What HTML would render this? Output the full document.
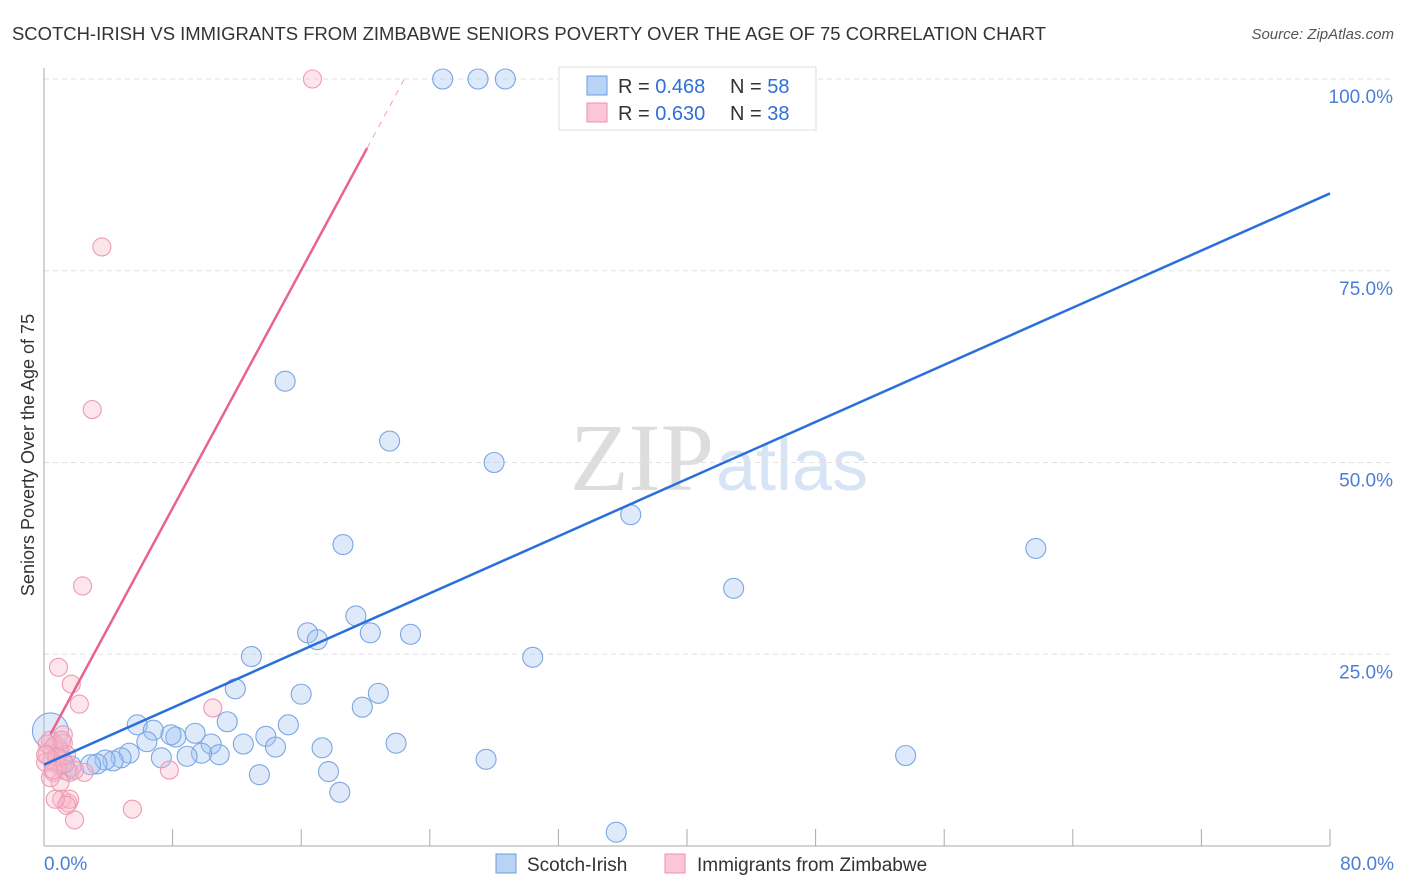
<!DOCTYPE html>
<html><head><meta charset="utf-8"><style>
body{margin:0;background:#fff;font-family:"Liberation Sans",sans-serif;}
#c{position:relative;width:1406px;height:892px;overflow:hidden;}
</style></head><body>
<div id="c">
<svg id="svg" width="1406" height="892" xmlns="http://www.w3.org/2000/svg">
<text x="12" y="40" font-size="18" fill="#333" textLength="1034" lengthAdjust="spacingAndGlyphs">SCOTCH-IRISH VS IMMIGRANTS FROM ZIMBABWE SENIORS POVERTY OVER THE AGE OF 75 CORRELATION CHART</text>
<text x="1394" y="39" font-size="15" fill="#555" font-style="italic" text-anchor="end">Source: ZipAtlas.com</text>
<text x="714" y="490" font-size="96" fill="#ddd" text-anchor="end" font-family="Liberation Serif,serif">ZIP</text>
<text x="716" y="490" font-size="72" fill="#d6e4f5">atlas</text>
<text transform="translate(34,455) rotate(-90)" font-size="18" fill="#333" text-anchor="middle">Seniors Poverty Over the Age of 75</text>
<g id="grid"></g><g id="pts"></g><g id="lines"></g>
<g>
<rect x="559" y="67" width="257" height="63" fill="#fff" stroke="#ddd"/>
<rect x="587" y="76" width="20" height="19" fill="#b9d3f5" stroke="#6a9be0"/>
<rect x="587" y="103" width="20" height="19" fill="#fbc6d6" stroke="#ec8fab"/>
<text x="618" y="93" font-size="20" fill="#333">R = <tspan fill="#2f6fd6">0.468</tspan></text>
<text x="730" y="93" font-size="20" fill="#333">N = <tspan fill="#2f6fd6">58</tspan></text>
<text x="618" y="120" font-size="20" fill="#333">R = <tspan fill="#2f6fd6">0.630</tspan></text>
<text x="730" y="120" font-size="20" fill="#333">N = <tspan fill="#2f6fd6">38</tspan></text>
</g>
<g>
<rect x="496" y="854" width="20" height="19" fill="#b9d3f5" stroke="#6a9be0"/>
<text x="527" y="871" font-size="19" fill="#333">Scotch-Irish</text>
<rect x="665" y="854" width="20" height="19" fill="#fbc6d6" stroke="#ec8fab"/>
<text x="697" y="871" font-size="19" fill="#333">Immigrants from Zimbabwe</text>
</g>
</svg>
</div>
<script>
const yTicks=[25,50,75,100];
const yTickLabels=["25.0%","50.0%","75.0%","100.0%"];
const xTickLabels=["0.0%","80.0%"];
const blueX=[24.8,27,28.7,33.1,37.6,15,21.5,28,36.5,18.6,61.7,42.9,19.4,16.4,20.3,17,22.8,12.9,30.4,11.9,16,20.8,19.8,5.8,6.8,11.4,15.2,8.2,9.4,6.4,13.8,10.4,12.4,7.9,17.3,14.4,21.9,5.3,10.9,9.8,7.3,8.9,4.8,4.3,3.8,3.3,2.9,1.7,1.4,27.5,53.6,17.7,13.4,18.4,35.6,0.4,0.7,1];
const blueY=[100,100,100,100,100,60.6,52.8,50,43.2,39.3,38.8,33.6,30,27.8,27.8,26.9,27.6,24.7,24.6,20.5,19.8,19.9,18.1,15.8,15.1,16.2,15.8,14.2,14.7,13.6,14.3,13.3,13.3,14.5,12.8,12.9,13.4,12.1,11.9,12.1,11.5,11.7,11.5,11.1,11.2,10.7,10.6,10.4,9.9,11.3,11.8,9.7,9.3,7,1.8,15,12.5,11];
const blueR=[10,10,10,10,10,10,10,10,10,10,10,10,10,10,10,10,10,10,10,10,10,10,10,10,10,10,10,10,10,10,10,10,10,10,10,10,10,10,10,10,10,10,10,10,10,10,10,10,10,10,10,10,10,10,10,18,12,12];
const pinkX=[16.7,3.6,3,2.4,0.9,1.7,2.2,10.5,7.8,5.5,1.9,1.5,1.1,1.6,0.4,0.7,1,1.2,0.2,0.5,0.9,1.2,1.4,0.6,0.1,1.6,2.5,1,0.4,0.8,1.1,0.2,0.6,1.4,0.1,1.9,0.7,1.3];
const pinkY=[100,78.1,56.9,33.9,23.3,21.1,18.5,18,9.9,4.8,3.4,5.6,6.1,6.1,13.8,13.2,12.5,14.5,11.9,11.2,10.6,13.4,11.9,9.6,10.9,9.6,9.6,8.3,8.9,11.6,13.8,13.3,9.9,5.3,11.9,9.9,6.1,10.7];
const blueLine=[10.6,0.931];
const pinkLine=[13.0,3.88];
const X=v=>44+v*16.075, Y=v=>846-v*7.67;
const NS="http://www.w3.org/2000/svg";
const mk=(t,a,p)=>{const e=document.createElementNS(NS,t);for(const k in a)e.setAttribute(k,a[k]);p.appendChild(e);return e;};
const grid=document.getElementById('grid');
yTicks.forEach((v,i)=>{
 const l=mk('line',{x1:44,x2:1394,y1:Y(v),y2:Y(v),stroke:'#e2e2e2','stroke-dasharray':'5,4'},grid);
 
 
 const t=mk('text',{x:1393,y:Y(v)+24,'font-size':19,fill:'#4a7fd6','text-anchor':'end'},grid);t.textContent=yTickLabels[i];
 
 
});
const ax=mk('line',{x1:44,x2:44,y1:68,y2:846,stroke:'#aaa'},grid);


const bx=mk('line',{x1:44,x2:1330,y1:846,y2:846,stroke:'#aaa'},grid);


for(let i=1;i<=10;i++){const t=mk('line',{x1:X(i*8),x2:X(i*8),y1:829,y2:846,stroke:'#aaa'},grid);
 
 }
[[0,'start',44],[80,'end',1394]].forEach((a,i)=>{const t=mk('text',{x:a[2],y:870,'font-size':19,fill:'#4a7fd6','text-anchor':a[1]},grid);t.textContent=xTickLabels[i];
 
 });
const pts=document.getElementById('pts');
blueX.forEach((v,i)=>{const c=mk('circle',{cx:X(v),cy:Y(blueY[i]),r:blueR[i],fill:'rgba(160,195,240,0.35)',stroke:'#7aa6e4','stroke-width':1.1},pts);
 
 });
pinkX.forEach((v,i)=>{const c=mk('circle',{cx:X(v),cy:Y(pinkY[i]),r:9,fill:'rgba(248,180,200,0.35)',stroke:'#ee9ab3','stroke-width':1.1},pts);
 
 });
const ln=document.getElementById('lines');
const b=mk('line',{x1:X(0),y1:Y(blueLine[0]),x2:X(80),y2:Y(blueLine[0]+80*blueLine[1]),stroke:'#2a6fd8','stroke-width':2.5},ln);


const xs=20.1, xe=(100-pinkLine[0])/pinkLine[1];
const p=mk('line',{x1:X(0.4),y1:Y(pinkLine[0]+0.4*pinkLine[1]),x2:X(xs),y2:Y(pinkLine[0]+xs*pinkLine[1]),stroke:'#e8648f','stroke-width':2.5},ln);


const pd=mk('line',{x1:X(xs),y1:Y(pinkLine[0]+xs*pinkLine[1]),x2:X(xe),y2:Y(100),stroke:'#f0a0b8','stroke-width':1,'stroke-dasharray':'6,6'},ln);


</script>
</body></html>
